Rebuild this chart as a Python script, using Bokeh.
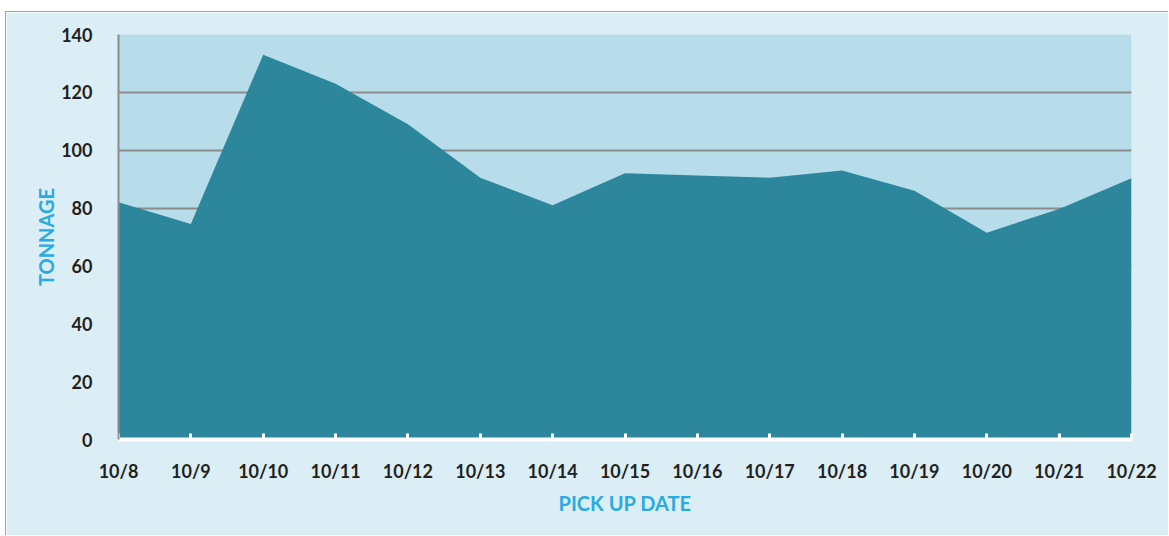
from bokeh.plotting import figure
from bokeh.models import FixedTicker
from bokeh.embed import file_html
from bokeh.resources import INLINE

dates = ["10/8", "10/9", "10/10", "10/11", "10/12", "10/13", "10/14", "10/15",
         "10/16", "10/17", "10/18", "10/19", "10/20", "10/21", "10/22"]
tonnage = [82, 74.5, 133, 123, 109, 90.5, 81, 92, 91.3, 90.5, 93, 86, 71.5, 79.7, 90.3]
y_ticks = [0, 20, 40, 60, 80, 100, 120, 140]

xs = list(range(len(dates)))

p = figure(width=1163, height=524, output_backend="svg", toolbar_location=None,
           x_range=(0, len(dates) - 1), y_range=(0, 140),
           min_border_left=112, min_border_right=38, min_border_top=22, min_border_bottom=97,
           styles={"margin-left": "5px", "margin-top": "11px",
                   "border-left": "1px solid #a0a0a0", "border-top": "1px solid #a0a0a0"})

p.background_fill_color = "#b6dde9"
p.border_fill_color = "#dbeef5"
p.outline_line_color = None

p.varea(x=xs, y1=[0] * len(xs), y2=tonnage, fill_color="#2c869c")

# grid
p.xgrid.grid_line_color = None
p.ygrid.ticker = FixedTicker(ticks=y_ticks)
p.ygrid.grid_line_color = "#8c8c8c"
p.ygrid.grid_line_width = 2

# x axis
p.xaxis.ticker = FixedTicker(ticks=xs)
p.xaxis.major_label_overrides = {i: d for i, d in enumerate(dates)}
p.xaxis.axis_line_color = "white"
p.xaxis.axis_line_width = 4
p.xaxis.major_tick_line_color = "white"
p.xaxis.major_tick_line_width = 3
p.xaxis.major_tick_in = 6
p.xaxis.major_tick_out = 0
p.xaxis.minor_tick_line_color = None
p.xaxis.major_label_standoff = 20
p.xaxis.axis_label = "PICK UP DATE"
p.xaxis.axis_label_standoff = 6

# y axis
p.yaxis.ticker = FixedTicker(ticks=y_ticks)
p.yaxis.axis_line_color = "#8c8c8c"
p.yaxis.axis_line_width = 2
p.yaxis.major_tick_line_color = None
p.yaxis.minor_tick_line_color = None
p.yaxis.major_label_standoff = 20
p.yaxis.axis_label = "TONNAGE"
p.yaxis.axis_label_standoff = 0

for ax in (p.xaxis, p.yaxis):
    ax.major_label_text_font = "Lato"
    ax.major_label_text_font_style = "bold"
    ax.major_label_text_font_size = "18px"
    ax.major_label_text_color = "#231f20"
    ax.axis_label_text_font = "Lato"
    ax.axis_label_text_font_style = "bold"
    ax.axis_label_text_font_size = "20px"
    ax.axis_label_text_color = "#2aaae2"

open("out.html", "w").write(file_html(p, INLINE))
